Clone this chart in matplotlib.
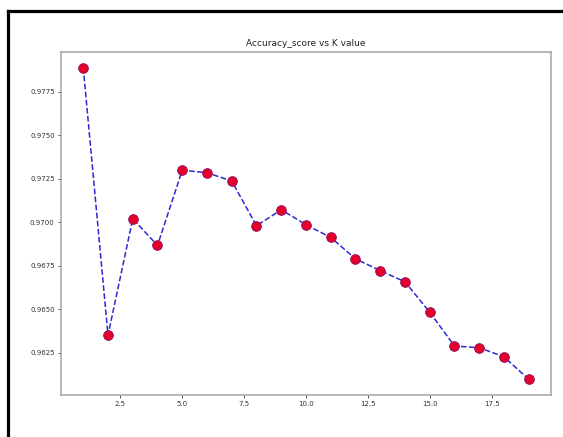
import matplotlib.pyplot as plt
from matplotlib.lines import Line2D

# accuracy for each neighbour count
k_values = list(range(1, 20))
accuracy = [0.97890, 0.96352, 0.97021, 0.96868, 0.97300, 0.97286, 0.97238,
            0.96981, 0.97073, 0.96987, 0.96914, 0.96791, 0.96723, 0.96659,
            0.96484, 0.96290, 0.96280, 0.96228, 0.96098]

x_ticks = [2.5, 5.0, 7.5, 10.0, 12.5, 15.0, 17.5]
y_ticks = [0.9625, 0.9650, 0.9675, 0.9700, 0.9725, 0.9750, 0.9775]

fig = plt.figure(figsize=(5.63, 4.37), dpi=100)
ax = fig.add_axes([0.1083, 0.0961, 0.8704, 0.7849])

ax.plot(k_values, accuracy, color='#2a2ad0', linestyle='dashed', linewidth=1.1,
        marker='o', markerfacecolor='#e4002b', markeredgecolor='#8a1060',
        markeredgewidth=0.6, markersize=7)

ax.set_title('Accuracy_score vs K value', fontsize=6.5, color='#222222', pad=4)
ax.set_xticks(x_ticks)
ax.set_yticks(y_ticks)
ax.set_xticklabels([f'{t:.1f}' for t in x_ticks])
ax.set_yticklabels([f'{t:.4f}' for t in y_ticks])
ax.tick_params(labelsize=5, colors='#333333', length=2.5, width=0.6, pad=2)
for spine in ax.spines.values():
    spine.set_color('#aaaaaa')
    spine.set_linewidth(1.2)

# black border around the figure (open at right and bottom)
fig.add_artist(Line2D([8 / 563, 1.0], [1 - 11 / 437, 1 - 11 / 437],
                      transform=fig.transFigure, color='black', linewidth=2.3))
fig.add_artist(Line2D([8 / 563, 8 / 563], [0.0, 1 - 11 / 437],
                      transform=fig.transFigure, color='black', linewidth=2.3))

fig.savefig('out.png', dpi=100)
